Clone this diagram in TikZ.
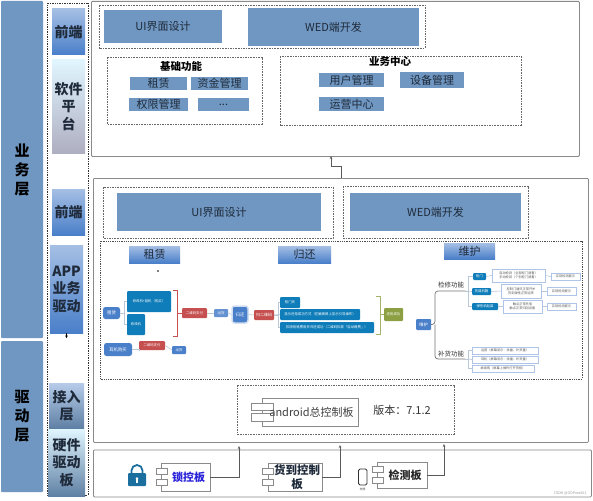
\documentclass[tikz,border=0pt]{standalone}
\usepackage{fontspec}
\setmainfont{Noto Sans CJK SC}
\usepackage{xcolor}
\usetikzlibrary{arrows.meta}
\definecolor{layerblue}{HTML}{7097C1}
\definecolor{panelblue}{HTML}{6F97C1}
\definecolor{framegray}{HTML}{8A8A8A}
\definecolor{mapblue}{HTML}{0F7DB9}
\definecolor{nodeblue}{HTML}{4A7FC9}
\definecolor{mapred}{HTML}{C5504F}
\definecolor{mapolive}{HTML}{8CA043}
\definecolor{linegray}{HTML}{B9C7D6}
\definecolor{locktext}{HTML}{2A22D8}
\definecolor{lockteal}{HTML}{1B6F9E}
\definecolor{darkink}{HTML}{1F2A3A}
\tikzset{
  layerbox/.style={fill=layerblue, inner sep=0pt, align=center, text=black, font=\bfseries\fontsize{15}{19}\selectfont, rounded corners=1pt},
  sidebox/.style={inner sep=0pt, align=center, text=darkink, font=\bfseries\fontsize{14}{17.5}\selectfont},
  headbox/.style={top color=#1!50!white, bottom color=#1, inner sep=0pt},
  headbox/.default=nodeblue,
  framebox/.style={draw=framegray, line width=0.8pt, fill=white, rounded corners=1pt},
  dashbox/.style={draw=black!60, dash pattern=on 1.6pt off 1pt, line width=0.6pt},
  panelbox/.style={fill=panelblue, inner sep=0pt, text=darkink, font=\fontsize{11}{13}\selectfont},
  smallbox/.style={panelbox, font=\fontsize{11}{13}\selectfont},
  mapbox/.style={fill=mapblue, text=white, inner sep=0pt, rounded corners=1pt, font=\fontsize{3.4}{4}\selectfont},
  rednode/.style={fill=mapred, text=white, inner sep=0pt, rounded corners=1pt, font=\fontsize{3.4}{4}\selectfont},
  rootnode/.style={fill=nodeblue, text=white, inner sep=0pt, rounded corners=2.5pt, font=\fontsize{4.4}{5}\selectfont},
  notebox/.style={draw=nodeblue!45, line width=0.5pt, fill=white, text=black!65, inner sep=0pt, align=center, font=\fontsize{3.2}{4.2}\selectfont},
  complabel/.style={draw=framegray, line width=0.7pt, fill=white, inner sep=0pt, align=center, font=\fontsize{11}{13}\selectfont},
  comptab/.style={draw=framegray, line width=0.7pt, fill=white, inner sep=0pt, minimum width=11pt, minimum height=6pt},
  maplink/.style={draw=linegray, line width=0.6pt},
  uplink/.style={draw=black!65, line width=0.7pt, -{Stealth[length=3pt,width=2.5pt]}}
}
\begin{document}
\begin{tikzpicture}[x=1pt, y=-1pt]
  \useasboundingbox[fill=white] (0,0) rectangle (593,500);

  % layers on the left
  \node[layerbox, minimum width=42pt, minimum height=337pt] (business) at (22,169.5) {业\\务\\层};
  \node[layerbox, minimum width=42pt, minimum height=151pt] (driver) at (22,416.5) {驱\\动\\层};
  \draw[black!80, densely dotted, line width=0.7pt] (47.5,3.5) rectangle (88,495);
  \node[sidebox, headbox, minimum width=33pt, minimum height=46pt] (front1) at (68.5,32) {前端};
  \node[sidebox, top color=blue!30!cyan!12!white, bottom color=black!10!blue!15!gray!55, minimum width=33pt, minimum height=93pt] (soft) at (68.5,106.5) {软件\\平\\台};
  \node[sidebox, headbox, minimum width=33pt, minimum height=46pt] (front2) at (68.5,212) {前端};
  \node[sidebox, headbox, minimum width=33pt, minimum height=88pt] (appdrv) at (66.5,289) {APP\\业务\\驱动};
  \node[sidebox, top color=nodeblue!40!white, bottom color=layerblue!85!black, minimum width=35pt, minimum height=45pt] (access) at (66.5,405.5) {接入\\层};
  \node[sidebox, top color=blue!30!cyan!12!white, bottom color=layerblue!85!black, minimum width=37pt, minimum height=67pt] (hardware) at (66.5,462.5) {硬件\\驱动\\板};
  \coordinate (apptip) at (66.5,338);
  \draw[black, line width=0.5pt, -{Stealth[length=2.5pt,width=2.5pt]}] (appdrv.south) -- (apptip);

  % software platform
  \node[framebox, minimum width=488pt, minimum height=155pt, anchor=north west] (platform) at (91,1) {};
  \draw[dashbox] (99,5) rectangle (425,48);
  \node[panelbox, minimum width=118pt, minimum height=33pt] (uitop) at (163,26.5) {UI界面设计};
  \node[panelbox, minimum width=171pt, minimum height=38pt] (wedtop) at (333.5,27) {WED端开发};
  \draw[dashbox] (107,57) rectangle (262,124);
  \node[font=\bfseries\fontsize{10.5}{12}\selectfont] (basetitle) at (181,67) {基础功能};
  \node[smallbox, minimum width=57pt, minimum height=13pt] (rent1) at (158.5,83.5) {租赁};
  \node[smallbox, minimum width=57pt, minimum height=13pt] (fund) at (219.5,83.5) {资金管理};
  \node[smallbox, minimum width=59pt, minimum height=13pt] (perm) at (158.5,104.5) {权限管理};
  \node[smallbox, minimum width=51pt, minimum height=13pt] (more) at (223.5,104.5) {...};
  \draw[dashbox] (280,56) rectangle (521,125);
  \node[font=\bfseries\fontsize{10.5}{12}\selectfont] (centertitle) at (390,62) {业务中心};
  \node[smallbox, minimum width=65pt, minimum height=14pt] (user) at (351.5,80) {用户管理};
  \node[smallbox, minimum width=64pt, minimum height=16pt] (device) at (432,80) {设备管理};
  \node[smallbox, minimum width=65pt, minimum height=14pt] (ops) at (351.5,104) {运营中心};

  % app layer
  \node[framebox, minimum width=495pt, minimum height=264pt, anchor=north west] (applayer) at (93,178) {};
  \coordinate (appout) at (341,178);
  \coordinate (platin) at (331,156);
  \draw[uplink] (appout) -- (341,166) -- (331,166) -- (platin);
  \draw[dashbox] (103,187) rectangle (333,238);
  \node[panelbox, minimum width=204pt, minimum height=38pt] (uiapp) at (219,212) {UI界面设计};
  \draw[dashbox] (343,186) rectangle (528,238);
  \node[panelbox, minimum width=171pt, minimum height=38pt] (wedapp) at (435.5,212) {WED端开发};
  \draw[black!70, densely dotted, line width=0.8pt] (100,241) rectangle (582,379);
  \node[headbox, text=darkink, font=\fontsize{11}{13}\selectfont, minimum width=51pt, minimum height=17pt] (rent2) at (154.5,254.5) {租赁};
  \node[headbox, text=darkink, font=\fontsize{11}{13}\selectfont, minimum width=53pt, minimum height=17pt] (back2) at (304.5,254.5) {归还};
  \node[headbox, text=darkink, font=\fontsize{11}{13}\selectfont, minimum width=51pt, minimum height=16pt] (keep2) at (469.5,251) {维护};
  \fill[black] (158,271) circle (0.9pt);

  % rent and return map
  \node[rootnode, minimum width=17pt, minimum height=12pt] (rentroot) at (111.5,313) {租赁};
  \node[mapbox, minimum width=44pt, minimum height=21pt] (rentA) at (149,301.5) {修改机+回机（购买）};
  \node[mapbox, minimum width=18pt, minimum height=21pt] (rentB) at (136,324.5) {修改机};
  \node[rednode, minimum width=25pt, minimum height=10pt] (payA) at (194.5,313) {二维码支付};
  \node[rootnode, fill=nodeblue!85!white, rounded corners=1pt, font=\fontsize{3.4}{4}\selectfont, minimum width=14pt, minimum height=8pt] (outA) at (221,313) {出货};
  \node[rootnode, draw=nodeblue!25, line width=1.5pt, minimum width=16pt, minimum height=17pt] (backroot) at (240,314.5) {归还};
  \node[rednode, minimum width=20pt, minimum height=10pt, font=\fontsize{4}{5}\selectfont] (scanback) at (264,315) {扫二维码};
  \node[rootnode, minimum width=28pt, minimum height=13pt] (earroot) at (118,349.5) {耳机购买};
  \node[rednode, minimum width=26pt, minimum height=9pt] (payB) at (152,345.5) {二维码支付};
  \node[rootnode, rounded corners=1pt, font=\fontsize{3.4}{4}\selectfont, minimum width=14pt, minimum height=8pt] (outB) at (179,350) {出货};
  \node[mapbox, minimum width=20pt, minimum height=11pt] (backA) at (290,302.5) {柜门关};
  \node[mapbox, minimum width=80pt, minimum height=11pt] (backB) at (320,314.5) {显示还柜成功方式（在触摸屏上显示引导操作）};
  \node[mapbox, minimum width=94pt, minimum height=11pt] (backC) at (327,327.5) {扣除柜格费用并归还成功（二维码扣款「自动缴费」）};
  \node[rednode, fill=mapolive, minimum width=19pt, minimum height=13pt] (done) at (393.5,314.5) {还柜成功};
  \draw[maplink] (rentroot.east) -- (124,313) -- (124,301.5) -- (rentA.west);
  \draw[maplink] (124,313) -- (124,324.5) -- (rentB.west);
  \coordinate (redtop) at (173,290);
  \coordinate (redbot) at (173,336);
  \draw[mapred, line width=0.9pt] (redtop) -- (177,290) -- (177,336) -- (redbot);
  \draw[mapred, line width=0.6pt] (177,313) -- (payA.west);
  \draw[maplink] (payA.east) -- (outA.west);
  \draw[maplink] (outA.east) -- (backroot.west);
  \draw[maplink] (backroot.east) -- (scanback.west);
  \draw[maplink] (earroot.east) -- (payB.west |- earroot.east) -- (payB.south west);
  \draw[maplink] (payB.east) -- (outB.west);
  \draw[maplink] (scanback.east) -- (278,315) -- (278,302.5) -- (backA.west);
  \draw[maplink] (scanback.east) -- (backB.west);
  \draw[maplink] (278,315) -- (278,327.5) -- (backC.west);
  \coordinate (olivetop) at (376,296);
  \coordinate (olivebot) at (376,334);
  \draw[mapolive!80!white, line width=0.9pt] (olivetop) -- (380,296) -- (380,334) -- (olivebot);
  \draw[mapolive!80!white, line width=0.6pt] (380,314.5) -- (done.west);

  % keep map
  \node[rootnode, rounded corners=1pt, minimum width=15pt, minimum height=11pt] (keeproot) at (423.5,324.5) {维护};
  \node[font=\fontsize{6.5}{8}\selectfont, text=black!80] (repair) at (451,285) {检修功能};
  \node[font=\fontsize{6.5}{8}\selectfont, text=black!80] (refill) at (451,354) {补货功能};
  \coordinate (repairend) at (465,291);
  \coordinate (refillend) at (465,359);
  \draw[black!55, line width=0.7pt, rounded corners=3pt] (keeproot.east) -- (435,324.5) -- (435,291) -- (repairend);
  \draw[black!55, line width=0.7pt, rounded corners=3pt] (435,324.5) -- (435,359) -- (refillend);
  \node[mapbox, minimum width=13pt, minimum height=7pt] (door) at (479.5,276.5) {柜门};
  \node[mapbox, minimum width=19pt, minimum height=7pt] (channel) at (481.5,291.5) {货道机箱};
  \node[mapbox, minimum width=26pt, minimum height=7pt] (motor) at (485,306.5) {弹性机起装};
  \node[notebox, minimum width=53pt, minimum height=13pt] (noteA) at (518.5,275.5) {自动检测（全部柜门请看）\\手动检测（个别柜门请看）};
  \node[notebox, minimum width=40pt, minimum height=14pt] (noteB) at (521,291) {控制门通讯正常开关\\货到弹性正常运转};
  \node[notebox, minimum width=39pt, minimum height=13pt] (noteC) at (522.5,306.5) {触点正常充电\\触点正常归回设备};
  \node[notebox, minimum width=29pt, minimum height=7pt] (showA) at (565.5,276.5) {实现检测提示};
  \node[notebox, minimum width=29pt, minimum height=8pt] (showB) at (561.5,291) {实现检测提示};
  \node[notebox, minimum width=29pt, minimum height=7pt] (showC) at (561.5,306.5) {实现检测提示};
  \node[notebox, minimum width=66pt, minimum height=7pt] (fillA) at (505,350.5) {运营（屏幕显示：余量、补货量）};
  \node[notebox, minimum width=66pt, minimum height=7pt] (fillB) at (505,359.5) {耳机（屏幕显示：余量、补货量）};
  \node[notebox, minimum width=62pt, minimum height=7pt] (fillC) at (503,368.5) {继续购（屏幕上操作打开货柜）};
  \draw[maplink] (repairend) -- (468,291) -- (468,276.5) -- (door.west);
  \draw[maplink] (repairend) -- (channel.west);
  \draw[maplink] (468,291) -- (468,306.5) -- (motor.west);
  \draw[maplink] (door.east) -- (noteA.west);
  \draw[maplink] (channel.east) -- (noteB.west);
  \draw[maplink] (motor.east) -- (noteC.west);
  \draw[maplink] (noteA.east) -- (showA.west);
  \draw[maplink] (noteB.east) -- (showB.west);
  \draw[maplink] (noteC.east) -- (showC.west);
  \draw[maplink] (refillend) -- (468,359) -- (468,350.5) -- (fillA.west);
  \draw[maplink] (468,359) -- (fillB.west);
  \draw[maplink] (468,359) -- (468,368.5) -- (fillC.west);

  % android board
  \draw[dashbox] (237,385) rectangle (454,434);
  \node[complabel, minimum width=96pt, minimum height=28pt] (android) at (310,412) {};
  \node[comptab, minimum width=22pt, minimum height=7.5pt] at (262,407) {};
  \node[comptab, minimum width=22pt, minimum height=7.5pt] at (262,417.5) {};
  \node[complabel, draw=none, fill=none, text=black!75, minimum width=96pt, minimum height=28pt] (androidtext) at (310,412) {\hspace*{3pt}android总控制板};
  \node[font=\fontsize{11}{13}\selectfont, text=black!80] (version) at (402,410) {版本：7.1.2};

  % hardware boards
  \node[framebox, minimum width=498pt, minimum height=47pt, anchor=north west] (boards) at (93,449.5) {};
  \fill[lockteal, rounded corners=1pt] (128,473) rectangle (146,486);
  \draw[lockteal, line width=1.8pt] (131.5,473) -- (131.5,470.5) arc[start angle=180, end angle=0, radius=5.5pt] -- (142.5,473);
  \fill[white] (137,478.5) circle (1.4pt);
  \fill[white] (136.4,478.5) rectangle (137.6,483);
  \node[complabel, text=locktext, font=\bfseries\fontsize{11}{13}\selectfont, minimum width=49pt, minimum height=28pt, text depth=0pt] (lockboard) at (185.5,477) {\hspace*{6pt}锁控板};
  \node[comptab] at (161.5,471) {};
  \node[comptab] at (161.5,482) {};
  \node[complabel, minimum width=54pt, minimum height=28pt] (cargoboard) at (295,477) {};
  \node[comptab] at (267.5,471) {};
  \node[comptab] at (267.5,482) {};
  \node[complabel, draw=none, fill=none, text=darkink, font=\bfseries\fontsize{11.5}{14}\selectfont] (cargotext) at (297,477) {货到控制\\板};
  \node[complabel, font=\bfseries\fontsize{11}{13}\selectfont, text=black!85, minimum width=50pt, minimum height=26pt] (detectboard) at (402,475) {\hspace*{6pt}检测板};
  \node[comptab] at (377.5,469.5) {};
  \node[comptab] at (377.5,480.5) {};
  \draw[black!80, line width=0.9pt, rounded corners=1.5pt] (358.5,469) rectangle (367,485);
  \node[font=\fontsize{2.8}{3.4}\selectfont, text=black!70] (phone) at (362.7,489) {物理};
  \coordinate (locktip) at (239,446);
  \coordinate (cargotip) at (340,445);
  \coordinate (detecttip) at (444,444);
  \draw[uplink] (lockboard.east) -- (locktip |- lockboard.east) -- (locktip);
  \draw[uplink] (cargoboard.east) -- (cargotip |- cargoboard.east) -- (cargotip);
  \draw[uplink] (detectboard.east) -- (detecttip |- detectboard.east) -- (detecttip);
  \node[font=\fontsize{3.6}{4.4}\selectfont, text=black!40, anchor=east] (mark) at (590,493) {CSDN @OOPxxx001};
\end{tikzpicture}
\end{document}
